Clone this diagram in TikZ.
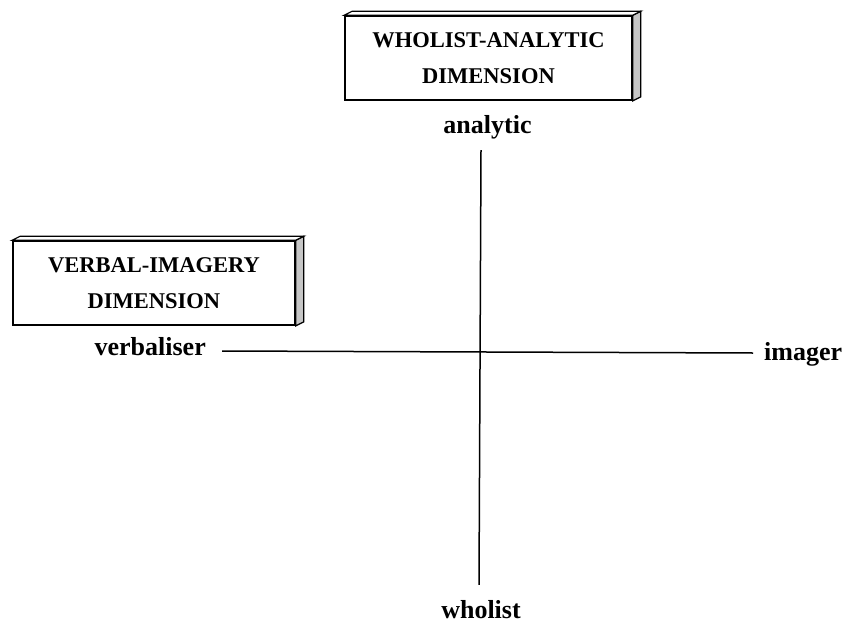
\documentclass[tikz,border=0pt]{standalone}
\usepackage{fontspec}
\setmainfont{Liberation Serif}
\begin{document}
\begin{tikzpicture}[x=1pt,y=-1pt,
  dimbox/.style={draw=black,line width=1.6pt,fill=white,align=center,
    font=\bfseries\fontsize{22.5}{36}\selectfont,inner sep=0pt},
  pole/.style={font=\bfseries\fontsize{26}{30}\selectfont,text depth=0pt,inner ysep=0pt},
  axis/.style={line width=1.5pt}]
\useasboundingbox (0,0) rectangle (845,623);
\fill[white] (0,0) rectangle (845,623);

% dimension boxes with a shallow 3-D edge
\node[dimbox,minimum width=287pt,minimum height=84pt] (wa) at (488.5,58)
  {WHOLIST-ANALYTIC\\DIMENSION};
\node[dimbox,minimum width=282pt,minimum height=84pt] (vi) at (154,283)
  {VERBAL-IMAGERY\\DIMENSION};
\foreach \b in {wa,vi}{
  \filldraw[line width=1.2pt,fill=gray!45] (\b.north east) -- ++(8,-4)
    -- ([xshift=8pt,yshift=4pt]\b.south east) -- (\b.south east) -- cycle;
  \filldraw[line width=1.2pt,fill=white] (\b.north west) -- ++(8,-4)
    -- ([xshift=8pt,yshift=4pt]\b.north east) -- (\b.north east) -- cycle;
}

% pole labels
\node[pole,anchor=base,text height=16pt,inner ysep=17pt] (ana) at (487.5,133) {analytic};
\node[pole,anchor=base,text height=16pt,inner ysep=17pt] (who) at (481,618) {wholist};
\node[pole,anchor=base east,text height=8pt,inner xsep=16pt] (verb) at (222,355) {verbaliser};
\node[pole,anchor=base west,text height=14pt,inner xsep=11pt] (img) at (753,360) {imager};

% axes
\draw[axis] ([xshift=-6.5pt]ana.south) -- ([xshift=-2pt]who.north);
\draw[axis] (verb.east) -- (img.west);
\end{tikzpicture}
\end{document}
